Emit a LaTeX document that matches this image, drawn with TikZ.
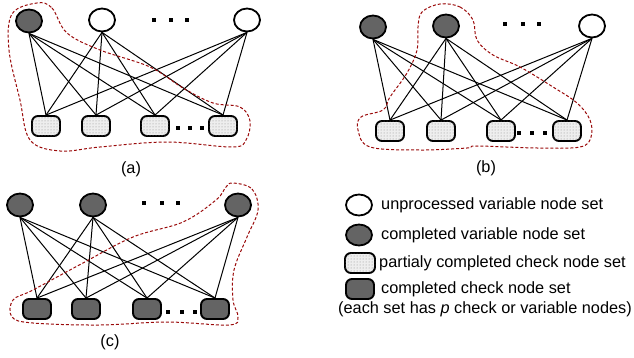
\documentclass[tikz,border=0pt]{standalone}
\usepackage{fontspec}
\setmainfont{Liberation Sans}
\usetikzlibrary{shapes.geometric,patterns}
\definecolor{filldark}{HTML}{646464}
\definecolor{filllight}{HTML}{EEEEEE}
\definecolor{loopred}{HTML}{9A0A0A}

\begin{document}
\begin{tikzpicture}[x=1pt,y=-1pt,
  varnode/.style={ellipse, draw, line width=1.8pt, minimum width=26pt, minimum height=23pt, inner sep=0pt},
  varopen/.style={varnode, fill=white},
  vardone/.style={varnode, fill=filldark},
  chknode/.style={draw, rounded corners=6pt, line width=1.9pt, minimum width=28pt, minimum height=20pt, inner sep=0pt},
  chkpart/.style={chknode, fill=filllight, postaction={pattern=dots, pattern color=black!45}},
  chkdone/.style={chknode, fill=filldark},
  dotsq/.style={fill=black, minimum size=3.5pt, inner sep=0pt},
  link/.style={line width=1pt},
  region/.style={loopred, dash pattern=on 3pt off 2pt, line width=1pt},
  lbl/.style={font=\fontsize{16.3}{19}\selectfont, inner sep=0pt}
]
\useasboundingbox (0,0) rectangle (634,358);

% ---------- (a) ----------
\node[vardone] (a-v1) at (29,21) {};
\node[varopen] (a-v2) at (102,20) {};
\node[varopen] (a-v3) at (247,20) {};
\node[dotsq] (a-d1) at (154,20) {};
\node[dotsq] (a-d2) at (171,20) {};
\node[dotsq] (a-d3) at (187,20) {};
\node[chkpart] (a-c1) at (46,126) {};
\node[chkpart] (a-c2) at (96,126) {};
\node[chkpart] (a-c3) at (155,126) {};
\node[chkpart] (a-c4) at (223,126) {};
\node[dotsq] (a-e1) at (178,128) {};
\node[dotsq] (a-e2) at (190,128) {};
\node[dotsq] (a-e3) at (202,128) {};
\foreach \v in {1,2,3}
  \foreach \c in {1,2,3,4}
    \draw[link] (a-v\v.south) -- (a-c\c.north);
\draw[region] plot[smooth cycle, tension=0.6] coordinates {
  (37,3) (52,8) (67,33) (100,50) (150,67) (183,88) (213,103) (240,107)
  (250,121) (246,140) (232,147) (167,142) (100,147) (60,151) (30,140)
  (20,100) (9,50) (12,14)};
\node[lbl] (a-lab) at (131,169) {(a)};

% ---------- (b) ----------
\node[vardone] (b-v1) at (373,27) {};
\node[vardone] (b-v2) at (446,26) {};
\node[varopen] (b-v3) at (592,26) {};
\node[dotsq] (b-d1) at (505,24) {};
\node[dotsq] (b-d2) at (523,24) {};
\node[dotsq] (b-d3) at (539,24) {};
\node[chkpart] (b-c1) at (390,131) {};
\node[chkpart] (b-c2) at (441,131) {};
\node[chkpart] (b-c3) at (501,131) {};
\node[chkpart] (b-c4) at (567,131) {};
\node[dotsq] (b-e1) at (519,133) {};
\node[dotsq] (b-e2) at (532,133) {};
\node[dotsq] (b-e3) at (545,133) {};
\foreach \v in {1,2,3}
  \foreach \c in {1,2,3,4}
    \draw[link] (b-v\v.south) -- (b-c\c.north);
\draw[region] plot[smooth cycle, tension=0.6] coordinates {
  (440,4) (460,7) (473,20) (477,40) (493,55) (520,67) (553,87) (577,103)
  (590,120) (591,137) (580,147) (537,148) (477,146) (467,148) (420,150)
  (370,147) (358,130) (361,117) (383,110) (390,97) (407,73) (417,50)
  (418,27) (422,12)};
\node[lbl] (b-lab) at (486,168) {(b)};

% ---------- (c) ----------
\node[vardone] (c-v1) at (20,205) {};
\node[vardone] (c-v2) at (93,205) {};
\node[vardone] (c-v3) at (238,205) {};
\node[dotsq] (c-d1) at (144,203) {};
\node[dotsq] (c-d2) at (162,203) {};
\node[dotsq] (c-d3) at (178,203) {};
\node[chkdone] (c-c1) at (37,309) {};
\node[chkdone] (c-c2) at (86,309) {};
\node[chkdone] (c-c3) at (147,309) {};
\node[chkdone] (c-c4) at (215,309) {};
\node[dotsq] (c-e1) at (168,312) {};
\node[dotsq] (c-e2) at (182,312) {};
\node[dotsq] (c-e3) at (195,312) {};
\foreach \v in {1,2,3}
  \foreach \c in {1,2,3,4}
    \draw[link] (c-v\v.south) -- (c-c\c.north);
\draw[region] plot[smooth cycle, tension=0.6] coordinates {
  (233,183) (252,189) (258,210) (247,237) (234,270) (233,300) (238,317)
  (229,325) (167,322) (100,325) (33,323) (12,317) (13,300) (33,290)
  (83,263) (133,237) (183,222) (216,200) (226,187)};
\node[lbl] (c-lab) at (110,342) {(c)};

% ---------- legend ----------
\node[varopen, minimum height=21pt] (k-1) at (359,205) {};
\node[vardone, minimum height=21pt] (k-2) at (359,235) {};
\node[chkpart, minimum width=30pt] (k-3) at (360,263) {};
\node[chkdone] (k-4) at (360,289) {};
\node[lbl, anchor=west] (t-1) at (381,205) {unprocessed variable node set};
\node[lbl, anchor=west] (t-2) at (381,235) {completed variable node set};
\node[lbl, anchor=west] (t-3) at (379,263) {partialy completed check node set};
\node[lbl, anchor=west] (t-4) at (381,289) {completed check node set};
\node[lbl, anchor=west] (t-5) at (338,309) {(each set has \textit{p} check or variable nodes)};
\end{tikzpicture}
\end{document}
